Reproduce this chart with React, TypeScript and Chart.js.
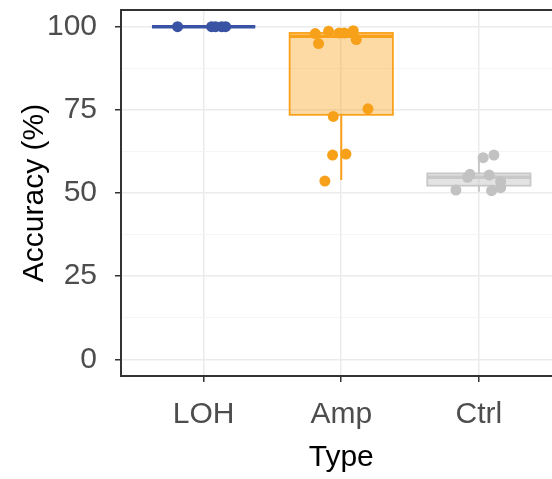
import React, { useEffect, useRef } from "react";
import { Chart, registerables } from "chart.js";

Chart.register(...registerables);

// ---- data ----
const categories = ["LOH", "Amp", "Ctrl"];
const xTitle = "Type";
const yTitle = "Accuracy (%)";
const yTickValues = [0, 25, 50, 75, 100];
const yTickLabels = ["0", "25", "50", "75", "100"];
const yMinorTicks = [12.5, 37.5, 62.5, 87.5];

// box statistics per category
const boxLow = [100, 53.9, 50.4];
const boxQ1 = [100, 73.5, 52.2];
const boxMedian = [100, 97.1, 54.7];
const boxQ3 = [100, 98.1, 55.9];
const boxHigh = [100, 98.8, 61.4];

// jittered points (value, horizontal jitter in category units)
const lohValues = [100, 100, 100, 100, 100];
const lohJitter = [-0.189, 0.058, 0.087, 0.131, 0.16];
const ampValues = [97.9, 98.6, 98.1, 98.1, 98.8, 94.9, 96.1, 75.3, 73.0, 61.4, 61.7, 53.6];
const ampJitter = [-0.189, -0.092, -0.015, 0.022, 0.087, -0.165, 0.109, 0.194, -0.058, -0.063, 0.034, -0.119];
const ctrlValues = [60.6, 61.4, 55.6, 55.4, 54.7, 53.4, 51.6, 50.9, 50.7];
const ctrlJitter = [0.031, 0.109, -0.065, 0.075, -0.082, 0.158, 0.158, -0.167, 0.092];

// ---- styles ----
const pointColors = ["#3953A4", "#F7A11A", "#C2C2C2"];
const boxStroke = ["#3953A4", "#F9A11B", "#C8C8C8"];
const boxFill = ["rgba(57,83,164,0.4)", "rgba(249,161,27,0.4)", "rgba(185,185,185,0.4)"];
const BOX_HALF = 0.375;
const FONT = "'Liberation Sans', Arial, sans-serif";

const boxPlugin = {
  id: "boxes",
  beforeDatasetsDraw(chart: any) {
    const { ctx, chartArea } = chart;
    const x = chart.scales.x;
    const y = chart.scales.y;
    ctx.save();
    ctx.beginPath();
    ctx.rect(chartArea.left, chartArea.top, chartArea.right - chartArea.left, chartArea.bottom - chartArea.top);
    ctx.clip();
    categories.forEach((_, i) => {
      const c = i + 1;
      const cx = x.getPixelForValue(c);
      const l = x.getPixelForValue(c - BOX_HALF);
      const r = x.getPixelForValue(c + BOX_HALF);
      const yLow = y.getPixelForValue(boxLow[i]);
      const yQ1 = y.getPixelForValue(boxQ1[i]);
      const yMed = y.getPixelForValue(boxMedian[i]);
      const yQ3 = y.getPixelForValue(boxQ3[i]);
      const yHigh = y.getPixelForValue(boxHigh[i]);
      ctx.strokeStyle = boxStroke[i];
      ctx.lineWidth = 2;
      // whiskers
      ctx.beginPath();
      ctx.moveTo(cx, yQ3);
      ctx.lineTo(cx, yHigh);
      ctx.moveTo(cx, yQ1);
      ctx.lineTo(cx, yLow);
      ctx.stroke();
      // box
      ctx.fillStyle = boxFill[i];
      ctx.fillRect(l, yQ3, r - l, yQ1 - yQ3);
      ctx.lineWidth = 1.8;
      ctx.strokeRect(l, yQ3, r - l, yQ1 - yQ3);
      // median
      ctx.lineWidth = 3.5;
      ctx.beginPath();
      ctx.moveTo(l, yMed);
      ctx.lineTo(r, yMed);
      ctx.stroke();
    });
    ctx.restore();
  },
  afterDraw(chart: any) {
    const { ctx, chartArea } = chart;
    const x = chart.scales.x;
    ctx.save();
    // panel top border
    ctx.strokeStyle = "#333333";
    ctx.lineWidth = 2;
    ctx.beginPath();
    ctx.moveTo(chartArea.left - 1, chartArea.top);
    ctx.lineTo(chartArea.right, chartArea.top);
    ctx.stroke();
    // x axis title, centred on the full (cropped) panel: middle category
    ctx.fillStyle = "#000000";
    ctx.font = `30px ${FONT}`;
    ctx.textAlign = "center";
    ctx.textBaseline = "middle";
    ctx.fillText(xTitle, x.getPixelForValue((categories.length + 1) / 2), x.bottom - 21);
    ctx.restore();
  },
};

function pts(values: number[], jitter: number[], idx: number) {
  return values.map((v, k) => ({ x: idx + 1 + jitter[k], y: v }));
}

export default function App() {
  const ref = useRef<HTMLCanvasElement>(null);
  useEffect(() => {
    document.body.style.margin = "0";
    const canvas = ref.current!;
    const majorSet = new Set(yTickValues);
    const chart = new Chart(canvas, {
      type: "scatter",
      data: {
        datasets: [
          { data: pts(lohValues, lohJitter, 0), backgroundColor: pointColors[0], borderWidth: 0, pointRadius: 5.5 },
          { data: pts(ampValues, ampJitter, 1), backgroundColor: pointColors[1], borderWidth: 0, pointRadius: 5.5 },
          { data: pts(ctrlValues, ctrlJitter, 2), backgroundColor: pointColors[2], borderWidth: 0, pointRadius: 5.5 },
        ],
      },
      options: {
        responsive: false,
        animation: false,
        events: [],
        layout: { autoPadding: false, padding: { top: 10, left: 0, right: 0, bottom: 0 } },
        plugins: { legend: { display: false }, tooltip: { enabled: false } },
        scales: {
          x: {
            type: "linear",
            min: 0.4,
            max: 3.531,
            afterFit: (s: any) => {
              s.height = 103;
              s.paddingLeft = 0;
              s.paddingRight = 0;
            },
            afterBuildTicks: (s: any) => { s.ticks = categories.map((_, i) => ({ value: i + 1 })); },
            ticks: {
              callback: (v: any) => categories[Math.round(Number(v)) - 1] ?? "",
              color: "#4d4d4d",
              font: { family: FONT, size: 30 },
              padding: 15,
              maxRotation: 0,
              autoSkip: false,
            },
            grid: { color: "#ebebeb", lineWidth: 1.5, tickLength: 6, tickColor: "#333333", tickWidth: 1.5 },
            border: { display: true, color: "#333333", width: 2 },
            title: { display: false },
          },
          y: {
            type: "linear",
            min: -5,
            max: 105,
            afterFit: (s: any) => {
              s.width = 121;
              s.paddingTop = 0;
              s.paddingBottom = 0;
            },
            afterBuildTicks: (s: any) => {
              s.ticks = [...yTickValues, ...yMinorTicks].sort((a, b) => a - b).map((v) => ({ value: v }));
            },
            ticks: {
              callback: (v: any) => {
                const k = yTickValues.indexOf(Number(v));
                return k >= 0 ? yTickLabels[k] : "";
              },
              color: "#4d4d4d",
              font: { family: FONT, size: 30 },
              padding: 18,
              autoSkip: false,
            },
            grid: {
              color: (c: any) => (majorSet.has(c.tick?.value) ? "#ebebeb" : "#f3f3f3"),
              lineWidth: (c: any) => (majorSet.has(c.tick?.value) ? 1.5 : 0.8),
              tickLength: 6,
              tickColor: (c: any) => (majorSet.has(c.tick?.value) ? "#333333" : "rgba(0,0,0,0)"),
              tickWidth: 1.5,
            },
            border: { display: true, color: "#333333", width: 2 },
            title: {
              display: true,
              text: yTitle,
              color: "#000000",
              font: { family: FONT, size: 30 },
              padding: { top: 17, bottom: 0 },
            },
          },
        },
      },
      plugins: [boxPlugin],
    } as any);
    return () => chart.destroy();
  }, []);
  return (
    <div style={{ position: "fixed", left: 0, top: 0, width: 552, height: 479 }}>
      <canvas ref={ref} width={552} height={479} />
    </div>
  );
}
